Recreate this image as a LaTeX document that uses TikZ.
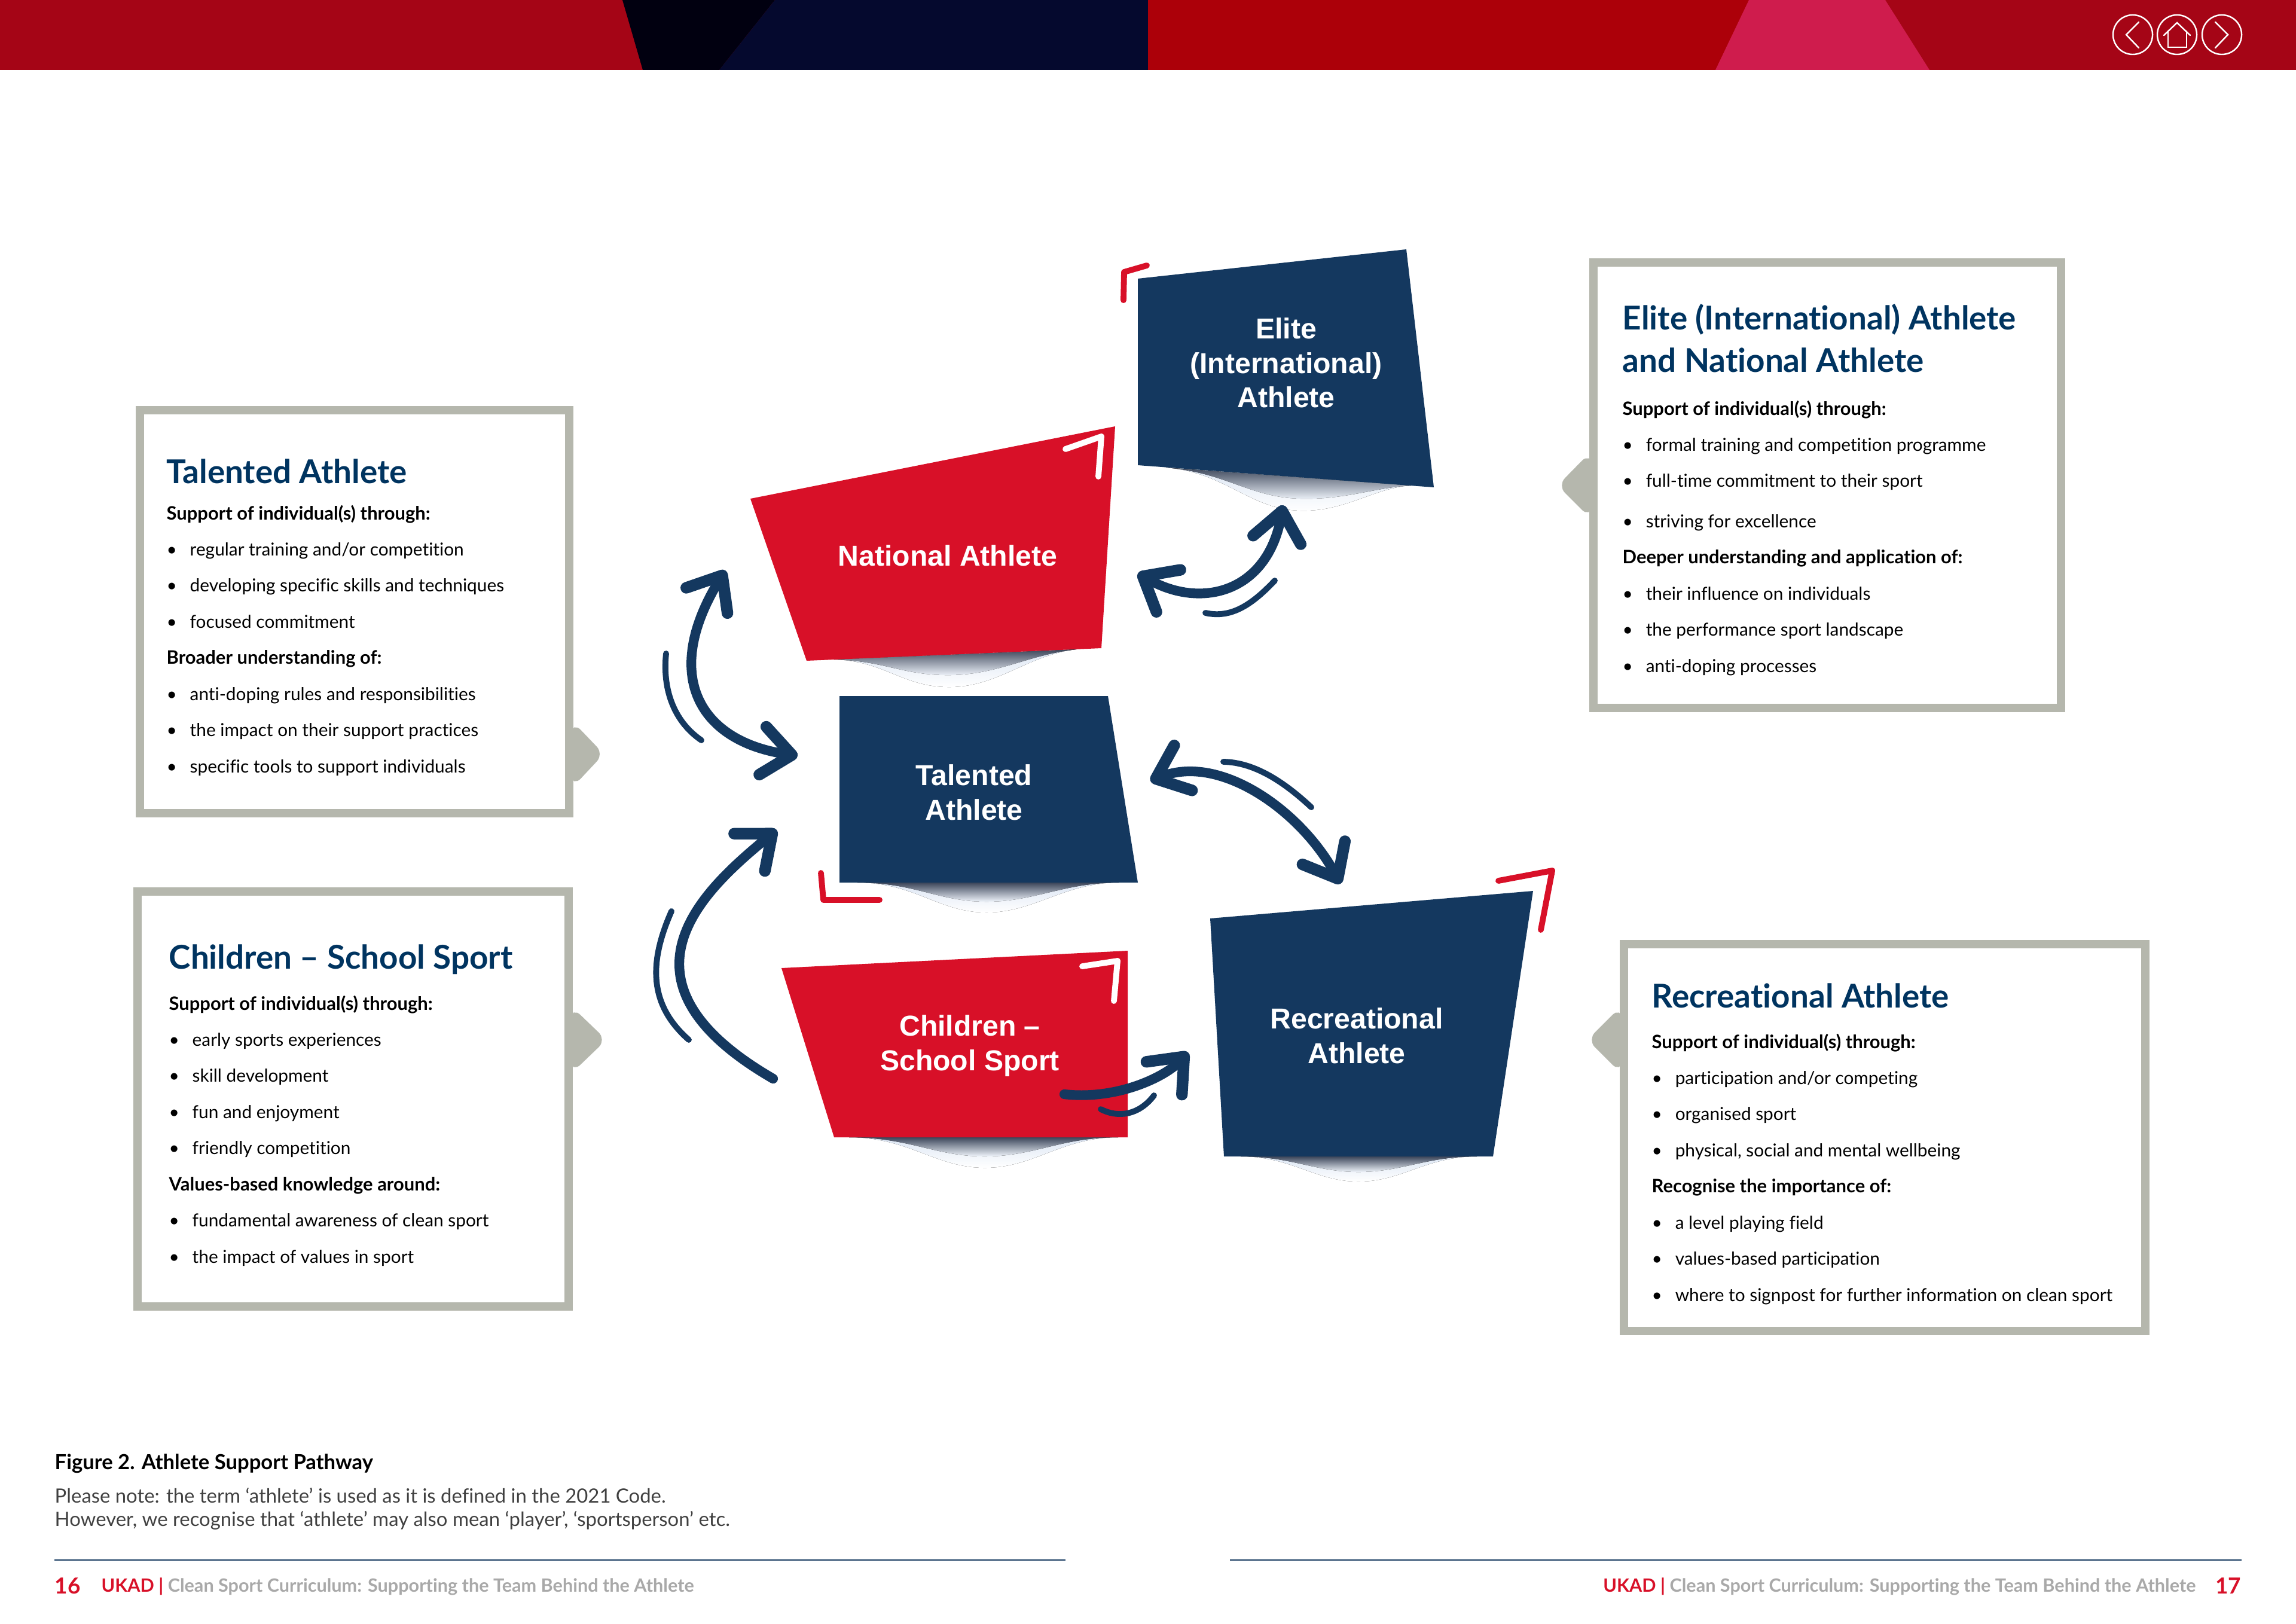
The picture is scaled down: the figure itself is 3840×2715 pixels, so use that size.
\documentclass[tikz,border=0pt]{standalone}
\usepackage{fontspec}
\usepackage{tikz}
\usetikzlibrary{arrows.meta}
\setmainfont{Lato}[Ligatures={TeX,NoCommon}]
\newfontfamily\labelfont{Liberation Sans}
\definecolor{boxnavy}{HTML}{14385F}
\definecolor{boxred}{HTML}{D81028}
\definecolor{framegrey}{HTML}{B5B7AD}
\definecolor{titlenavy}{HTML}{003460}
\definecolor{footgrey}{HTML}{A9A9A9}
\definecolor{lipdark}{HTML}{3C465A}
\definecolor{lipmid}{HTML}{DCE6F4}
\definecolor{lipedge}{HTML}{EEF3FA}
\newcommand{\pitem}[1]{\makebox[11.1pt][l]{\textbullet}#1}
\newcommand{\phead}[1]{{\fontsize{8.8}{17.2}\selectfont\bfseries #1}}
\begin{document}
\begin{tikzpicture}[x=0.01cm, y=-0.01cm]
		\tikzset{blocklabel/.style={text = white, align = center, font = \labelfont\bfseries\fontsize{13.7}{16.4}\selectfont}}
		\tikzset{paneltitle/.style={anchor = base west, inner sep = 0pt, align = left, text = titlenavy, font = \bfseries\fontsize{15.6}{20}\selectfont}}
		\tikzset{panelbody/.style={anchor = north west, inner sep = 0pt, align = left, font = \fontsize{8.48}{17.2}\selectfont}}
		\tikzset{panelframe/.style={draw = framegrey, line width = 4pt}}
		\tikzset{panelpointer/.style={fill = framegrey, draw = framegrey, line width = 2pt, rounded corners = 4pt}}
		\tikzset{redcorner/.style={draw = boxred, line width = 2.8pt, line cap = round, line join = round}}
		\tikzset{whitecorner/.style={draw = white, line width = 2.8pt, line cap = round, line join = round}}
		\tikzset{liphalo/.style={top color = lipmid, bottom color = white}}
		\tikzset{lipcore/.style={top color = lipdark, middle color = lipdark!55!lipedge, bottom color = lipedge}}
		\tikzset{link/.style={draw = boxnavy, line width = 4.6pt, line cap = round,
				{Straight Barb[length = 14pt, width = 23pt, line width = 5.5pt, round]}-{Straight Barb[length = 14pt, width = 23pt, line width = 5.5pt, round]}}}
		\tikzset{onelink/.style={draw = boxnavy, line width = 4.6pt, line cap = round,
				-{Straight Barb[length = 14pt, width = 23pt, line width = 5.5pt, round]}}}
		\tikzset{echo/.style={draw = boxnavy, line width = 2.8pt, line cap = round}}
		\tikzset{navicon/.style={shape = circle, draw = white, line width = 0.7pt, minimum size = 0.66cm, inner sep = 0pt}}
		\tikzset{naviconline/.style={draw = white, line width = 0.7pt, line cap = round}}
		\tikzset{footmark/.style={anchor = base west, inner sep = 0pt, font = \bfseries\fontsize{8.7}{10}\selectfont}}
		\useasboundingbox (0,0) rectangle (3840,2715);
		\fill[white] (0,0) rectangle (3840,2715);
		%banner
		\fill[fill = {rgb,255:red,165;green,5;blue,22}] (0,0) rectangle (3840,117);
		\fill[fill = {rgb,255:red,1;green,0;blue,16}] (1041,0) -- (1296,0) -- (1203,117) -- (1075,117) -- cycle;
		\fill[fill = {rgb,255:red,5;green,9;blue,46}] (1296,0) -- (1920,0) -- (1920,117) -- (1203,117) -- cycle;
		\fill[fill = {rgb,255:red,172;green,0;blue,9}] (1920,0) rectangle (2925,117);
		\fill[fill = {rgb,255:red,207;green,28;blue,77}] (2925,0) -- (3153,0) -- (3227,117) -- (2869,117) -- cycle;
		\node[navicon] (navback) at (3567,58) {};
		\node[navicon] (navhome) at (3641,58) {};
		\node[navicon] (navnext) at (3716,58) {};
		\draw[naviconline] (3577,37) -- (3556,58) -- (3577,80);
		\draw[naviconline] (3705,37) -- (3726,58) -- (3705,80);
		\draw[naviconline] (3619,59) -- (3641,38) -- (3663,59);
		\draw[naviconline] (3626,52) -- (3626,79) -- (3657,79) -- (3657,52);
		%lips under the blocks
		\fill[liphalo] (1950,782) .. controls (2050,790) and (2090,852) .. (2175,854) .. controls (2250,856) and (2300,815) .. (2360,812) -- cycle;
		\fill[lipcore] (1950,782) .. controls (2050,790) and (2090,832) .. (2175,834) .. controls (2250,836) and (2300,815) .. (2360,812) -- cycle;
		\fill[liphalo] (1395,1103) .. controls (1480,1105) and (1510,1150) .. (1590,1149) .. controls (1670,1148) and (1720,1095) .. (1800,1086) -- cycle;
		\fill[liphalo] (1434,1476) .. controls (1530,1476) and (1570,1526) .. (1650,1526) .. controls (1730,1526) and (1780,1476) .. (1871,1476) -- cycle;
		\fill[lipcore] (1395,1103) .. controls (1480,1105) and (1510,1130) .. (1590,1129) .. controls (1670,1128) and (1720,1095) .. (1800,1086) -- cycle;
		\fill[lipcore] (1434,1476) .. controls (1530,1476) and (1570,1508) .. (1650,1508) .. controls (1730,1508) and (1780,1476) .. (1871,1476) -- cycle;
		\fill[liphalo] (1420,1902) .. controls (1520,1902) and (1565,1953) .. (1647,1953) .. controls (1730,1953) and (1775,1902) .. (1870,1902) -- cycle;
		\fill[lipcore] (1420,1902) .. controls (1520,1902) and (1565,1934) .. (1647,1934) .. controls (1730,1934) and (1775,1902) .. (1870,1902) -- cycle;
		\fill[liphalo] (2075,1934) .. controls (2160,1934) and (2200,1976) .. (2272,1976) .. controls (2345,1976) and (2385,1934) .. (2470,1934) -- cycle;
		\fill[lipcore] (2075,1934) .. controls (2160,1934) and (2200,1960) .. (2272,1960) .. controls (2345,1960) and (2385,1934) .. (2470,1934) -- cycle;
		%blocks
		\fill[boxnavy] (1903,466) -- (2352,417) -- (2398,815) -- (1903,778) -- cycle;
		\fill[boxred] (1255,834) -- (1865,713) -- (1842,1084) -- (1349,1105) -- cycle;
		\fill[boxnavy] (1404,1164) -- (1853,1164) -- (1903,1476) -- (1404,1476) -- cycle;
		\fill[boxred] (1307,1619) -- (1886,1590) -- (1886,1902) -- (1395,1902) -- cycle;
		\fill[boxnavy] (2024,1536) -- (2564,1490) -- (2497,1934) -- (2047,1934) -- cycle;
		\node[blocklabel] (elite) at (2151,607) {Elite\\(International)\\Athlete};
		\node[blocklabel] (national) at (1585,929) {National Athlete};
		\node[blocklabel] (talented) at (1629,1325) {Talented\\Athlete};
		\node[blocklabel] (children) at (1622,1749) {Children –\\School Sport};
		\node[blocklabel] (recreational) at (2269,1732) {Recreational\\Athlete};
		%corners
		\draw[redcorner] (1879,502) -- (1880,455) -- (1918,444);
		\draw[whitecorner] (1837,797) -- (1842,730) -- (1782,751);
		\draw[redcorner] (1373,1460) -- (1377,1505) -- (1471,1505);
		\draw[whitecorner] (1863,1674) -- (1869,1607) -- (1810,1616);
		\draw[redcorner] (2577,1555) -- (2596,1456) -- (2506,1473);
		%edges
		\coordinate (natout) at (1903,959);
		\coordinate (elitein) at (2146,845);
		\coordinate (natin) at (1213,954);
		\coordinate (talout) at (1334,1264);
		\coordinate (talright) at (1924,1306);
		\coordinate (recin) at (2242,1478);
		\coordinate (chileft) at (1293,1804);
		\coordinate (talin) at (1299,1388);
		\coordinate (chiout) at (1780,1830);
		\coordinate (recleft) at (1987,1760);
		\path[link] (natout) .. controls (2010,1020) and (2120,990) .. (elitein);
		\path[link] (natin) .. controls (1105,1130) and (1170,1240) .. (talout);
		\path[link] (talright) .. controls (2040,1260) and (2175,1355) .. (recin);
		\path[onelink] (chileft) .. controls (1010,1640) and (1175,1490) .. (talin);
		\path[onelink] (chiout) .. controls (1870,1840) and (1950,1800) .. (recleft);
		%echo lines
		\path[echo] (2016,1025) .. controls (2060,1035) and (2095,1010) .. (2132,971);
		\path[echo] (1114,1093) .. controls (1108,1150) and (1125,1205) .. (1173,1238);
		\path[echo] (2046,1274) .. controls (2100,1275) and (2150,1310) .. (2193,1350);
		\path[echo] (1123,1524) .. controls (1085,1610) and (1085,1680) .. (1152,1739);
		\path[echo] (1841,1855) .. controls (1870,1870) and (1905,1865) .. (1930,1832);
		%talented panel
		\draw[panelframe] (234,686) rectangle (952,1360);
		\fill[panelpointer] (959,1213) -- (1005,1261) -- (959,1310) -- cycle;
		\node[paneltitle] (talentedtitle) at (278,808) {Talented Athlete};
		\node[panelbody] (talentedbody) at (278,844) {\phead{Support of individual(s) through:}\\
			\pitem{regular training and/or competition}\\
			\pitem{developing specific skills and techniques}\\
			\pitem{focused commitment}\\
			\phead{Broader understanding of:}\\
			\pitem{anti-doping rules and responsibilities}\\
			\pitem{the impact on their support practices}\\
			\pitem{specific tools to support individuals}};
		%children panel
		\draw[panelframe] (230,1491) rectangle (951,2185);
		\fill[panelpointer] (958,1690) -- (1009,1739) -- (958,1788) -- cycle;
		\node[paneltitle] (childrentitle) at (282,1620) {Children – School Sport};
		\node[panelbody] (childrenbody) at (282,1664) {\phead{Support of individual(s) through:}\\
			\pitem{early sports experiences}\\
			\pitem{skill development}\\
			\pitem{fun and enjoyment}\\
			\pitem{friendly competition}\\
			\phead{Values-based knowledge around:}\\
			\pitem{fundamental awareness of clean sport}\\
			\pitem{the impact of values in sport}};
		%elite panel
		\draw[panelframe] (2665,439) rectangle (3447,1184);
		\fill[panelpointer] (2658,763) -- (2610,812) -- (2658,860) -- cycle;
		\node[paneltitle] (elitetitle) at (2713,622) {Elite (International) Athlete\\and National Athlete};
		\node[panelbody] (elitebody) at (2713,669) {\phead{Support of individual(s) through:}\\
			\pitem{formal training and competition programme}\\
			\pitem{full-time commitment to their sport}\\[2pt]
			\pitem{striving for excellence}\\
			\phead{Deeper understanding and application of:}\\
			\pitem{their influence on individuals}\\
			\pitem{the performance sport landscape}\\
			\pitem{anti-doping processes}};
		%recreational panel
		\draw[panelframe] (2716,1579) rectangle (3588,2226);
		\fill[panelpointer] (2709,1690) -- (2660,1739) -- (2709,1788) -- cycle;
		\node[paneltitle] (recreationaltitle) at (2762,1685) {Recreational Athlete};
		\node[panelbody] (recreationalbody) at (2762,1728) {\phead{Support of individual(s) through:}\\
			\pitem{participation and/or competing}\\
			\pitem{organised sport}\\
			\pitem{physical, social and mental wellbeing}\\
			\phead{Recognise the importance of:}\\
			\pitem{a level playing field}\\
			\pitem{values-based participation}\\
			\pitem{where to signpost for further information on clean sport}};
		%figure note
		\node[anchor = base west, inner sep = 0pt, font = \bfseries\fontsize{9.85}{12}\selectfont] (figtitle) at (91,2457) {Figure 2. Athlete Support Pathway};
		\node[anchor = north west, inner sep = 0pt, align = left, text = black!75, font = \fontsize{9.35}{11}\selectfont] (fignote) at (91,2488) {Please note: the term `athlete' is used as it is defined in the 2021 Code.\\However, we recognise that `athlete' may also mean `player', `sportsperson' etc.};
		%footer
		\coordinate (ruleastart) at (91,2609);
		\coordinate (ruleaend) at (1782,2609);
		\coordinate (rulebstart) at (2057,2609);
		\coordinate (rulebend) at (3749,2609);
		\draw[boxnavy, line width = 0.8pt] (ruleastart) -- (ruleaend);
		\draw[boxnavy, line width = 0.8pt] (rulebstart) -- (rulebend);
		\node[footmark, text = boxred, font = \bfseries\fontsize{10.5}{12}\selectfont] (pageleft) at (91,2665) {16};
		\node[footmark, text = footgrey] (footleft) at (169,2662) {\textcolor{boxred}{UKAD} \textcolor{boxred}{\textbar} Clean Sport Curriculum: Supporting the Team Behind the Athlete};
		\node[footmark, anchor = base east, text = footgrey] (footright) at (3673,2662) {\textcolor{boxred}{UKAD} \textcolor{boxred}{\textbar} Clean Sport Curriculum: Supporting the Team Behind the Athlete};
		\node[footmark, anchor = base east, text = boxred, font = \bfseries\fontsize{10.5}{12}\selectfont] (pageright) at (3749,2665) {17};
\end{tikzpicture}
\end{document}
